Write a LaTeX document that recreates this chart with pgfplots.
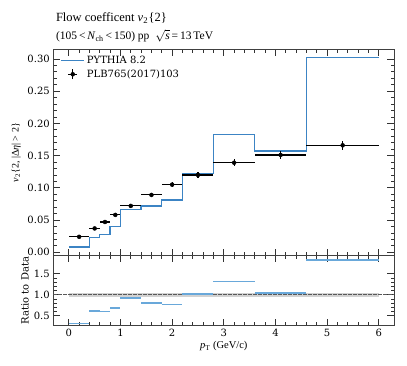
\documentclass[border=0pt]{standalone}
\usepackage{fontspec}
\setmainfont{DejaVu Serif}
\newfontfamily\timesf{Liberation Serif}
\usepackage{pgfplots}
\pgfplotsset{compat=1.18}
\definecolor{pyblue}{RGB}{60,132,196}
\definecolor{ratblue}{RGB}{105,168,218}
\begin{document}
\begin{tikzpicture}
\path[use as bounding box] (0pt,0pt) rectangle (407pt,366pt);
\pgfplotsset{
  common/.style={
    scale only axis, width=341pt, xmin=-0.3, xmax=6.3,
    anchor=south west,
    tick align=inside, major tick length=7pt, minor tick length=3.5pt,
    xtick pos=both, ytick pos=both,
    every tick/.style={black!80, line width=0.8pt},
    minor x tick num=4, minor y tick num=4,
    axis line style={line width=0.8pt, black!75},
    tick label style={font=\fontsize{10}{12}\selectfont},
    /pgf/number format/assume math mode=true,
    xtick={0,1,2,3,4,5,6},
  }
}
\begin{axis}[common, at={(53.3pt,110.3pt)}, height=206.2pt,
  ymin=-0.0053, ymax=0.3147,
  ytick={0,0.05,0.1,0.15,0.2,0.25,0.3},
  yticklabel style={/pgf/number format/.cd, fixed, fixed zerofill, precision=2},
  xticklabels={},
  ylabel={{\timesf\textit{v}\textsubscript{2}\{2, |Δ\textit{η}| > 2\}}},
  ylabel style={at={(axis description cs:-0.109,0.5)}, anchor=center, font=\fontsize{10}{12}\selectfont},
  legend style={at={(0.012,0.99)}, anchor=north west, draw=none, fill=none,
     font=\fontsize{10}{12}\selectfont, row sep=1pt},
  legend cell align=left,
]
\addplot[pyblue, line width=1.3pt, const plot, forget plot]
  coordinates {(0,0.008)(0.4,0.023)(0.6,0.028)(0.8,0.040)(1.0,0.066)(1.4,0.072)(1.8,0.081)(2.2,0.122)(2.8,0.183)(3.6,0.157)(4.6,0.302)(6.0,0.302)};
\addplot[black, only marks, mark=*, mark size=2pt, forget plot,
  error bars/.cd, x dir=both, x explicit, y dir=both, y explicit,
  error bar style={line width=1.1pt, black}, error mark=none]
  coordinates {
  (0.2,0.024) +- (0.2,0.002)
  (0.5,0.037) +- (0.1,0.002)
  (0.7,0.047) +- (0.1,0.002)
  (0.9,0.058) +- (0.1,0.002)
  (1.2,0.072) +- (0.2,0.003)
  (1.6,0.089) +- (0.2,0.003)
  (2.0,0.105) +- (0.2,0.004)
  (2.5,0.120) +- (0.3,0.004)
  (3.2,0.139) +- (0.4,0.005)
  (4.1,0.151) +- (0.5,0.006)
  (5.3,0.166) +- (0.7,0.007)};
\addlegendimage{legend image code/.code={\draw[pyblue, line width=1.4pt] (0pt,0pt) -- (23pt,0pt);}}
\addlegendentry{PYTHIA 8.2}
\addlegendimage{legend image code/.code={\draw[black, line width=1.1pt] (7pt,0pt) -- (16pt,0pt); \draw[black, line width=1.1pt] (11.5pt,-5pt) -- (11.5pt,5pt); \fill[black] (11.5pt,0pt) circle (2pt);}}
\addlegendentry{PLB765(2017)103}
\end{axis}
\begin{axis}[common, at={(53.3pt,40.3pt)}, height=70.4pt,
  ymin=0.265, ymax=1.94,
  ytick={0.5,1,1.5},
  yticklabel style={/pgf/number format/.cd, fixed, fixed zerofill, precision=1},
  xticklabel style={/pgf/number format/.cd, fixed, precision=0},
  ylabel={Ratio to Data},
  ylabel style={at={(axis description cs:-0.083,0.5)}, anchor=center, font=\fontsize{10}{12}\selectfont},
  xlabel={{\timesf\textit{p}\textsubscript{T} (GeV/c)}},
  xlabel style={at={(axis description cs:0.5,-0.331)}, anchor=base, font=\fontsize{10.5}{12}\selectfont},
  unbounded coords=jump,
]
\addplot[gray!35, line width=4.2pt] coordinates {(0,1)(6,1)};
\addplot[black!65, line width=0.8pt, dash pattern=on 3.5pt off 1.5pt] coordinates {(-0.3,1)(6.3,1)};
\addplot[ratblue, line width=1.6pt] coordinates {
  (0,0.32)(0.4,0.32)(0.4,nan)
  (0.4,0.62)(0.6,0.62)(0.6,nan)
  (0.6,0.60)(0.8,0.60)(0.8,nan)
  (0.8,0.69)(1.0,0.69)(1.0,nan)
  (1.0,0.92)(1.4,0.92)(1.4,nan)
  (1.4,0.81)(1.8,0.81)(1.8,nan)
  (1.8,0.77)(2.2,0.77)(2.2,nan)
  (2.2,1.02)(2.8,1.02)(2.8,nan)
  (2.8,1.32)(3.6,1.32)(3.6,nan)
  (3.6,1.04)(4.6,1.04)(4.6,nan)
  (4.6,1.83)(6.0,1.83)};
\end{axis}
\node[anchor=base west, font=\timesf\fontsize{12.5}{14}\selectfont] at (52.5pt,344pt) {Flow coefficent \textit{v}\textsubscript{2}\kern0.5pt\{2\}};
\node[anchor=base west, font=\timesf\fontsize{11.5}{14}\selectfont] at (52.5pt,326.7pt) {(105\,<\,\textit{N}\textsubscript{ch}\,<\,150) pp \ $\sqrt{\textit{s}}$\,=\,13\,TeV};
\end{tikzpicture}
\end{document}
